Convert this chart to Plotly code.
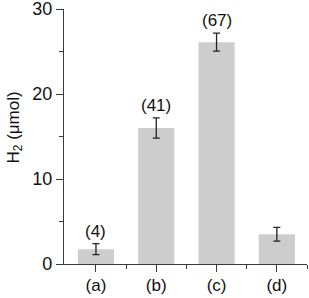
import plotly.graph_objects as go

categories = ["(a)", "(b)", "(c)", "(d)"]
h2_values = [1.75, 16.0, 26.1, 3.5]
h2_errors = [0.65, 1.2, 1.05, 0.8]
bar_labels = ["(4)", "(41)", "(67)", ""]

x_pos = list(range(len(categories)))
font_family = "Liberation Sans, Arial, sans-serif"
axis_color = "#3a3a3a"

fig = go.Figure()
fig.add_trace(go.Bar(
    x=x_pos, y=h2_values, width=0.6,
    marker=dict(color="#cdcdcd", line=dict(width=0)),
    error_y=dict(type="data", array=h2_errors, visible=True,
                 color="#222222", thickness=1.3, width=3.5),
))
for xi, v, e, lab in zip(x_pos, h2_values, h2_errors, bar_labels):
    if lab:
        fig.add_annotation(x=xi, y=v + e, text=lab, showarrow=False,
                           yanchor="bottom", yshift=1,
                           font=dict(size=17, color="#111111", family=font_family))

# y-axis title as a rotated annotation (placed like the reference)
fig.add_annotation(xref="paper", yref="paper", x=0, y=0.5,
                   xanchor="center", yanchor="middle", xshift=-50, yshift=9,
                   text="H<sub>2</sub> (μmol)", textangle=-90, showarrow=False,
                   font=dict(size=17, color="#111111", family=font_family))

fig.update_layout(
    width=309, height=298,
    margin=dict(l=64, r=2, t=9, b=34, autoexpand=False),
    plot_bgcolor="white", paper_bgcolor="white",
    showlegend=False,
    font=dict(family=font_family, size=17, color="#111111"),
)
fig.update_xaxes(
    range=[-0.53, 3.5], tickvals=x_pos, ticktext=categories,
    showline=True, linecolor=axis_color, linewidth=1.3,
    ticks="outside", ticklen=7, tickwidth=1.3, tickcolor=axis_color,
    minor=dict(tickvals=[0.5, 1.5, 2.5, 3.5], ticks="outside", ticklen=4,
               tickwidth=1.3, tickcolor=axis_color),
    showgrid=False, zeroline=False, tickfont=dict(size=17),
    ticklabeloverflow="allow", ticklabelstandoff=-2, automargin=False,
)
fig.update_yaxes(
    range=[0, 30], tickvals=[0, 10, 20, 30],
    showline=True, linecolor=axis_color, linewidth=1.3,
    ticks="outside", ticklen=7, tickwidth=1.3, tickcolor=axis_color,
    minor=dict(tickvals=[5, 15, 25], ticks="outside", ticklen=4,
               tickwidth=1.3, tickcolor=axis_color),
    showgrid=False, zeroline=False, tickfont=dict(size=18),
    ticklabeloverflow="allow", automargin=False,
)
fig.write_html("out.html", config={"displayModeBar": False},
               post_script="document.body.style.margin='0';")
